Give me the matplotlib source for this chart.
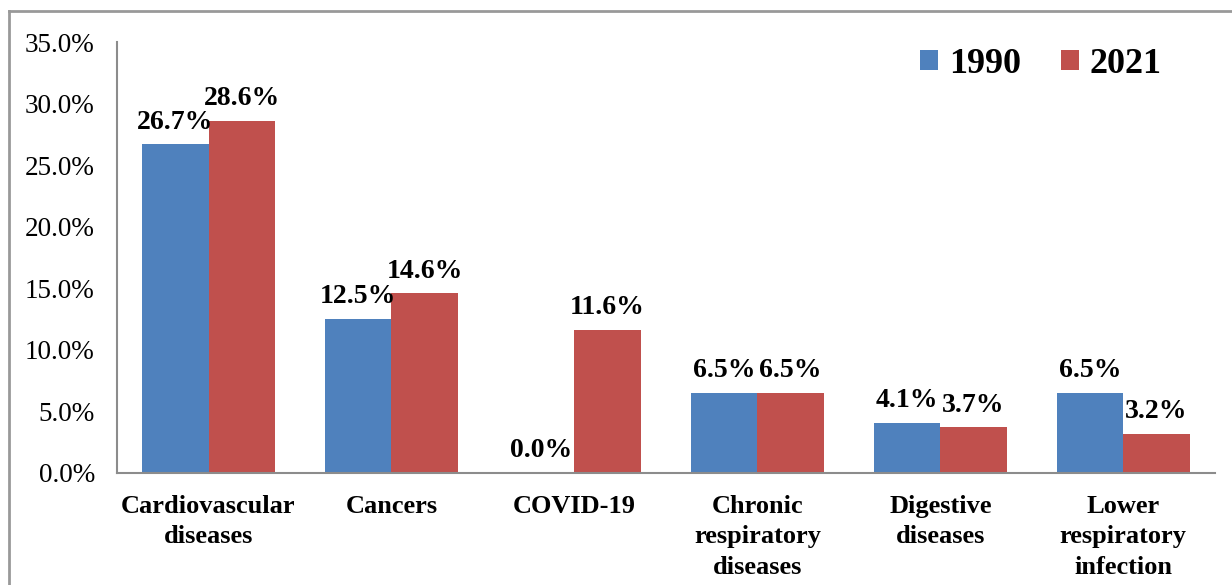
import numpy as np
import matplotlib
matplotlib.use("Agg")
import matplotlib.pyplot as plt
from matplotlib.lines import Line2D

plt.rcParams['font.family'] = ['Liberation Serif', 'DejaVu Serif']

categories = ['Cardiovascular\ndiseases', 'Cancers', 'COVID-19',
              'Chronic\nrespiratory\ndiseases', 'Digestive\ndiseases',
              'Lower\nrespiratory\ninfection']
share_1990 = [26.7, 12.5, 0.0, 6.5, 4.1, 6.5]
share_2021 = [28.6, 14.6, 11.6, 6.5, 3.7, 3.2]
years = ['1990', '2021']

BLUE = '#4F81BD'
RED = '#C0504D'
AXIS_GREY = '#8C8C8C'

fig = plt.figure(figsize=(12.32, 5.85), dpi=100)
ax = fig.add_axes([0.095, 0.1915, 0.891, 0.7365])

x = np.arange(len(categories))
w = 0.363
b1 = ax.bar(x - w / 2, share_1990, w, color=BLUE, label=years[0], linewidth=0)
b2 = ax.bar(x + w / 2, share_2021, w, color=RED, label=years[1], linewidth=0)

for bars, vals in ((b1, share_1990), (b2, share_2021)):
    for rect, v in zip(bars, vals):
        ax.annotate('{:.1f}%'.format(v),
                    (rect.get_x() + rect.get_width() / 2, v),
                    xytext=(0, 7), textcoords='offset points',
                    ha='center', va='bottom', fontsize=20, fontweight='bold')

ax.set_xlim(-0.5, 5.5)
ax.set_ylim(0, 35)
ax.set_yticks(np.arange(0, 35.1, 5))
ax.set_yticklabels(['{:.1f}%'.format(t) for t in np.arange(0, 35.1, 5)], fontsize=19.5)
ax.set_xticks(x)
ax.set_xticklabels(categories, fontsize=19, fontweight='bold', linespacing=1.4)
ax.tick_params(axis='both', length=0)
ax.tick_params(axis='y', pad=16)
ax.tick_params(axis='x', pad=16)

for side in ('top', 'right'):
    ax.spines[side].set_visible(False)
for side in ('left', 'bottom'):
    ax.spines[side].set_color(AXIS_GREY)
    ax.spines[side].set_linewidth(1.5)

leg = ax.legend(loc='upper right', bbox_to_anchor=(0.981, 1.062), ncol=2, frameon=False,
                prop={'size': 26, 'weight': 'bold'}, handlelength=0.5,
                handleheight=0.5, handletextpad=0.3, columnspacing=1.1)

# outer frame (top and left edges)
fig.add_artist(Line2D([9 / 1232, 1], [1 - 11 / 585, 1 - 11 / 585],
                      transform=fig.transFigure, color='#999999', lw=2))
fig.add_artist(Line2D([9 / 1232, 9 / 1232], [0, 1 - 11 / 585],
                      transform=fig.transFigure, color='#999999', lw=2))

fig.savefig('out.png', dpi=100)
